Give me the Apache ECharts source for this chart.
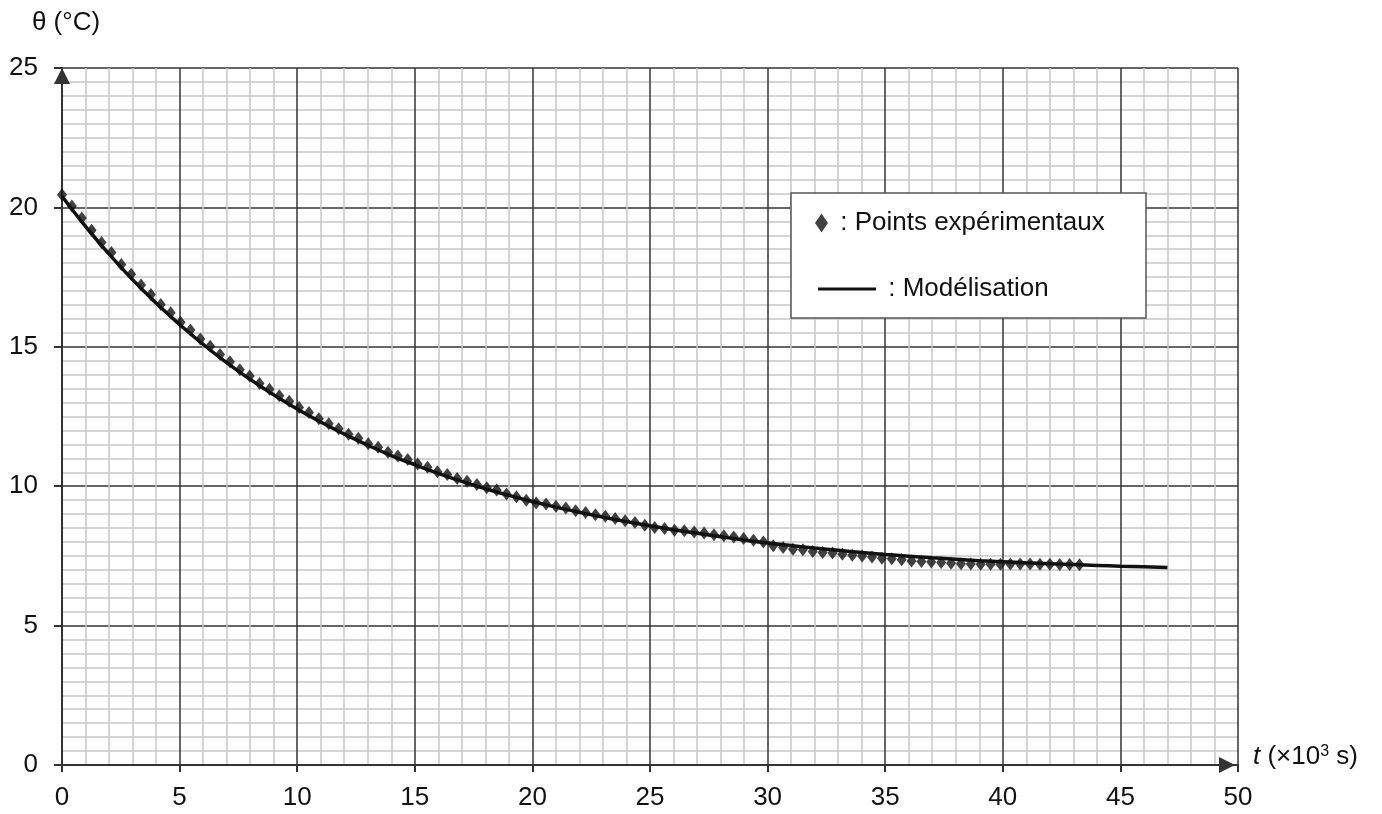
<!DOCTYPE html>
<html>
<head>
<meta charset="utf-8">
<title>θ(t)</title>
<script src="https://cdn.jsdelivr.net/npm/echarts@6/dist/echarts.min.js"></script>
<style>
  html, body { margin: 0; padding: 0; background: #fff; }
  #chart { width: 1382px; height: 814px; }
</style>
</head>
<body>
<div id="chart"></div>
<script>
// points expérimentaux (t en 10^3 s, θ en °C)
var expTime = [0, 0.42, 0.84, 1.26, 1.68, 2.1, 2.52, 2.94, 3.36, 3.78, 4.2, 4.62, 5.04, 5.46, 5.88, 6.3, 6.72, 7.14, 7.56, 7.98,
  8.4, 8.82, 9.24, 9.66, 10.08, 10.5, 10.92, 11.34, 11.76, 12.18, 12.6, 13.02, 13.44, 13.86, 14.28, 14.7, 15.12, 15.54, 15.96, 16.38,
  16.8, 17.22, 17.64, 18.06, 18.48, 18.9, 19.32, 19.74, 20.16, 20.58, 21.0, 21.42, 21.84, 22.26, 22.68, 23.1, 23.52, 23.94, 24.36, 24.78,
  25.2, 25.62, 26.04, 26.46, 26.88, 27.3, 27.72, 28.14, 28.56, 28.98, 29.4, 29.82, 30.24, 30.66, 31.08, 31.5, 31.92, 32.34, 32.76, 33.18,
  33.6, 34.02, 34.44, 34.86, 35.28, 35.7, 36.12, 36.54, 36.96, 37.38, 37.8, 38.22, 38.64, 39.06, 39.48, 39.9, 40.32, 40.74, 41.16, 41.58,
  42.0, 42.42, 42.84, 43.26];
var expTemp = [20.45, 20.05, 19.62, 19.18, 18.74, 18.38, 17.95, 17.60, 17.22, 16.88, 16.52, 16.22, 15.88, 15.60, 15.28, 15.02, 14.72, 14.46, 14.18, 13.95,
  13.68, 13.48, 13.24, 13.05, 12.82, 12.64, 12.42, 12.24, 12.06, 11.86, 11.72, 11.52, 11.40, 11.22, 11.08, 10.96, 10.80, 10.68, 10.52, 10.42,
  10.28, 10.18, 10.06, 9.94, 9.86, 9.72, 9.62, 9.50, 9.40, 9.36, 9.28, 9.22, 9.12, 9.06, 8.98, 8.92, 8.84, 8.76, 8.70, 8.60,
  8.52, 8.48, 8.42, 8.40, 8.36, 8.32, 8.26, 8.22, 8.18, 8.12, 8.06, 8.00, 7.86, 7.80, 7.74, 7.72, 7.66, 7.62, 7.60, 7.56,
  7.52, 7.50, 7.46, 7.42, 7.40, 7.36, 7.32, 7.30, 7.28, 7.26, 7.24, 7.22, 7.21, 7.20, 7.20, 7.20, 7.21, 7.21, 7.21, 7.20,
  7.20, 7.19, 7.19, 7.18];

// modélisation
var modelTime = [0, 1, 2, 3, 4, 5, 6, 7, 8, 9, 10, 11, 12, 13, 14, 15, 16, 17, 18, 19, 20, 21, 22, 23,
  24, 25, 26, 27, 28, 29, 30, 31, 32, 33, 34, 35, 36, 37, 38, 39, 40, 41, 42, 43, 44, 45, 46, 47];
var modelTemp = [20.40, 19.32, 18.33, 17.41, 16.57, 15.80, 15.09, 14.43, 13.83, 13.28, 12.77, 12.30, 11.87, 11.47, 11.10, 10.77,
  10.46, 10.17, 9.91, 9.67, 9.45, 9.25, 9.06, 8.89, 8.73, 8.58, 8.44, 8.31, 8.19, 8.07, 7.96, 7.87,
  7.78, 7.70, 7.62, 7.55, 7.49, 7.43, 7.38, 7.33, 7.29, 7.25, 7.22, 7.19, 7.16, 7.13, 7.11, 7.08];

var xTicks = [0, 5, 10, 15, 20, 25, 30, 35, 40, 45, 50];
var yTicks = [0, 5, 10, 15, 20, 25];

var expData = [];
for (var i = 0; i < expTime.length; i++) expData.push([expTime[i], expTemp[i]]);
var modelData = [];
for (var j = 0; j < modelTime.length; j++) modelData.push([modelTime[j], modelTemp[j]]);

var font = 'Liberation Sans, Arial, sans-serif';
var ink = '#111111';

var chart = echarts.init(document.getElementById('chart'), null, { renderer: 'canvas' });
chart.setOption({
  backgroundColor: '#ffffff',
  animation: false,
  textStyle: { fontFamily: font },
  grid: { left: 62, right: 144, top: 68, bottom: 49 },
  xAxis: {
    type: 'value',
    min: xTicks[0],
    max: xTicks[xTicks.length - 1],
    interval: 5,
    name: '{i|t} (×10{sup|3} s)',
    nameLocation: 'end',
    nameGap: 15,
    nameTextStyle: {
      fontSize: 26, color: ink, verticalAlign: 'middle', padding: [0, 0, 16, 0],
      rich: {
        i: { fontSize: 26, fontStyle: 'italic', color: ink },
        sup: { fontSize: 16, color: ink, verticalAlign: 'top', lineHeight: 26, padding: [0, 0, 10, 0] }
      }
    },
    axisLine: { lineStyle: { color: '#333', width: 2 }, symbol: ['none', 'triangle'], symbolSize: [16, 16], symbolOffset: [0, -11] },
    axisTick: { show: true, length: 7, inside: false, lineStyle: { color: '#333', width: 2 } },
    axisLabel: { fontSize: 26, color: ink, margin: 20 },
    splitLine: { show: true, lineStyle: { color: '#333', width: 1.5 } },
    minorTick: { show: false, splitNumber: 5 },
    minorSplitLine: { show: true, lineStyle: { color: '#c8c8c8', width: 1.5 } }
  },
  yAxis: {
    type: 'value',
    min: yTicks[0],
    max: yTicks[yTicks.length - 1],
    interval: 5,
    name: 'θ (°C)',
    nameLocation: 'end',
    nameGap: 45,
    nameTextStyle: { fontSize: 26, color: ink, align: 'center', verticalAlign: 'middle', padding: [0, 0, 0, 8] },
    axisLine: { lineStyle: { color: '#333', width: 2 }, symbol: ['none', 'triangle'], symbolSize: [16, 16], symbolOffset: [0, -8] },
    axisTick: { show: true, length: 8, inside: false, lineStyle: { color: '#333', width: 2 } },
    axisLabel: { fontSize: 26, color: ink, margin: 24 },
    splitLine: { show: true, lineStyle: { color: '#333', width: 1.5 } },
    minorTick: { show: false, splitNumber: 10 },
    minorSplitLine: { show: true, lineStyle: { color: '#c8c8c8', width: 1.5 } }
  },
  graphic: [{
    type: 'rect',
    z: 3,
    shape: { x: 791, y: 193, width: 355, height: 125 },
    style: { fill: '#ffffff', stroke: '#555', lineWidth: 1.5 }
  }],
  legend: [{
    data: ['Points expérimentaux'],
    left: 810, top: 205,
    icon: 'diamond',
    itemWidth: 13, itemHeight: 19,
    formatter: ' : {name}',
    textStyle: { fontSize: 26, color: ink, fontFamily: font },
    z: 5
  }, {
    data: ['Modélisation'],
    left: 813, top: 271,
    icon: 'rect',
    itemWidth: 58, itemHeight: 3,
    formatter: ' : {name}',
    textStyle: { fontSize: 26, color: ink, fontFamily: font },
    z: 5
  }],
  series: [{
    name: 'Modélisation',
    type: 'line',
    data: modelData,
    smooth: true,
    showSymbol: false,
    lineStyle: { color: ink, width: 3.5 },
    itemStyle: { color: ink },
    z: 3
  }, {
    name: 'Points expérimentaux',
    type: 'scatter',
    data: expData,
    symbol: 'diamond',
    symbolSize: [10, 13],
    itemStyle: { color: ink },
    z: 4
  }]
});
</script>
</body>
</html>
